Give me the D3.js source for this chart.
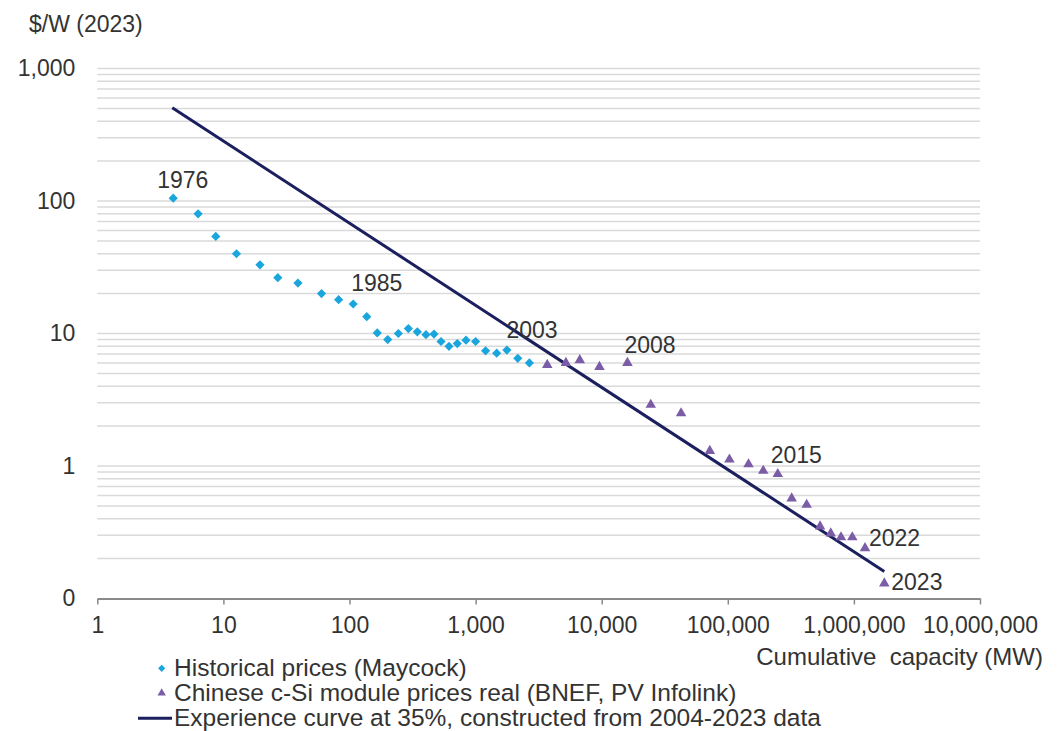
<!DOCTYPE html>
<html>
<head>
<meta charset="utf-8">
<script src="https://cdn.jsdelivr.net/npm/d3@7"></script>
<style>
  html, body { margin: 0; padding: 0; background: #fff; }
  svg { display: block; font-family: "Liberation Sans", Arial, sans-serif; }
</style>
</head>
<body>
<div id="chart"></div>
<script>
// Historical prices (Maycock), 1976-2003: cumulative MW and $/W (2023)
const maycockYears = [1976, 1977, 1978, 1979, 1980, 1981, 1982, 1983, 1984, 1985,
    1986, 1987, 1988, 1989, 1990, 1991, 1992, 1993, 1994, 1995,
    1996, 1997, 1998, 1999, 2000, 2001, 2002, 2003];
const maycockCapacity = [4, 6.3, 8.7, 12.7, 19.5, 27, 39, 60, 82, 107,
    137, 166, 201, 244, 293, 345, 404, 468, 532, 615,
    716, 839, 1000, 1200, 1470, 1770, 2160, 2670];
const maycockPrice = [105, 80, 54, 40, 33, 26.4, 24, 20, 18, 16.7,
    13.4, 10.1, 9.0, 10, 10.9, 10.3, 9.8, 9.9, 8.7, 8.0,
    8.4, 8.9, 8.7, 7.4, 7.1, 7.5, 6.5, 6.0];

// Chinese c-Si module prices real (BNEF, PV Infolink), 2004-2023
const bnefYears = [2004, 2005, 2006, 2007, 2008, 2009, 2010, 2011, 2012, 2013,
    2014, 2015, 2016, 2017, 2018, 2019, 2020, 2021, 2022, 2023];
const bnefCapacity = [3700, 5200, 6700, 9600, 16000, 24500, 42600, 72000, 103000, 146000,
    191000, 249000, 321000, 422000, 539000, 655000, 790000, 971000, 1225000, 1742000];
const bnefPrice = [5.8, 6.0, 6.3, 5.6, 6.0, 2.9, 2.5, 1.3, 1.12, 1.03,
    0.92, 0.87, 0.57, 0.51, 0.35, 0.31, 0.29, 0.29, 0.24, 0.13];

// Experience curve at 35% (end points)
const curveCapacity = [3.93, 1742000];
const curvePrice = [506, 0.16];

// Axis ticks
const xTicks = [1, 10, 100, 1000, 10000, 100000, 1000000, 10000000];
const yTicks = [0.1, 1, 10, 100, 1000];

// Years that carry a label
const labelYears = [1976, 1985, 2003, 2008, 2015, 2022, 2023];

const legendLabels = [
    'Historical prices (Maycock)',
    'Chinese c-Si module prices real (BNEF, PV Infolink)',
    'Experience curve at 35%, constructed from 2004-2023 data'
];

// ---- layout ----
const W = 1057, H = 731;
const plot = { left: 97.3, right: 980, top: 68.5, bottom: 598.5 };
const colors = { maycock: '#1aa6dc', bnef: '#7b5ca6', curve: '#1b1f5e', grid: '#dadada', axis: '#8a8a8a', text: '#333333' };
const FS = 23;

// label offsets from their point (px)
const labelOffset = {
    1976: [-16, -10], 1985: [-2, -13], 2003: [-23, -25], 2008: [-3, -10],
    2015: [-7, -11], 2022: [4, -2], 2023: [7, 7]
};

const svg = d3.select('#chart').append('svg')
    .attr('width', W)
    .attr('height', H);

svg.append('rect').attr('width', W).attr('height', H).attr('fill', '#fff');

const x = d3.scaleLog().domain([1, 1e7]).range([plot.left, plot.right]);
const y = d3.scaleLog().domain([0.1, 1000]).range([plot.bottom, plot.top]);

// Gridlines (all 1-9 multiples)
svg.append('g')
    .selectAll('line')
    .data(y.ticks().filter(d => d > 0.1 * 1.001))
    .enter()
    .append('line')
    .attr('x1', plot.left)
    .attr('x2', plot.right)
    .attr('y1', d => y(d))
    .attr('y2', d => y(d))
    .attr('stroke', colors.grid)
    .attr('stroke-width', 1.5);

// X axis
const xAxis = svg.append('g')
    .attr('transform', `translate(0,${plot.bottom})`)
    .call(d3.axisBottom(x)
        .tickValues(xTicks)
        .tickFormat(d3.format(','))
        .tickSize(6)
        .tickSizeOuter(0)
        .tickPadding(12));
xAxis.select('.domain').attr('stroke', colors.axis).attr('stroke-width', 2);
xAxis.selectAll('.tick line').attr('stroke', colors.axis).attr('stroke-width', 1.5);
xAxis.selectAll('.tick text')
    .attr('fill', colors.text)
    .style('font-size', FS + 'px')
    .style('font-family', '"Liberation Sans", Arial, sans-serif');

// Y axis (labels only, 0.1 shows as "0")
const yAxis = svg.append('g')
    .attr('transform', `translate(${plot.left},0)`)
    .call(d3.axisLeft(y)
        .tickValues(yTicks)
        .tickFormat(d3.format(',.0f'))
        .tickSize(0)
        .tickPadding(22));
yAxis.select('.domain').remove();
yAxis.selectAll('.tick text')
    .attr('fill', colors.text)
    .style('font-size', FS + 'px')
    .style('font-family', '"Liberation Sans", Arial, sans-serif');

// Axis titles
svg.append('text')
    .attr('x', 29)
    .attr('y', 32)
    .attr('fill', colors.text)
    .style('font-size', FS + 'px')
    .text('$/W (2023)');

svg.append('text')
    .attr('x', 1043)
    .attr('y', 665)
    .attr('text-anchor', 'end')
    .attr('fill', colors.text)
    .style('font-size', '24px')
    .style('white-space', 'pre')
    .text('Cumulative  capacity (MW)');

// Experience curve
const curveData = curveCapacity.map((c, i) => ({ c, p: curvePrice[i] }));
svg.append('path')
    .datum(curveData)
    .attr('fill', 'none')
    .attr('stroke', colors.curve)
    .attr('stroke-width', 3)
    .attr('d', d3.line().x(d => x(d.c)).y(d => y(d.p)));

// Maycock diamonds
const maycock = maycockYears.map((yr, i) => ({ yr, c: maycockCapacity[i], p: maycockPrice[i] }));
const diamond = r => `M0,${-r}L${r},0L0,${r}L${-r},0Z`;
svg.append('g')
    .selectAll('path')
    .data(maycock)
    .enter()
    .append('path')
    .attr('d', diamond(4.6))
    .attr('transform', d => `translate(${x(d.c)},${y(d.p)})`)
    .attr('fill', colors.maycock);

// BNEF triangles
const bnef = bnefYears.map((yr, i) => ({ yr, c: bnefCapacity[i], p: bnefPrice[i] }));
svg.append('g')
    .selectAll('path')
    .data(bnef)
    .enter()
    .append('path')
    .attr('d', d3.symbol().type(d3.symbolTriangle).size(48))
    .attr('transform', d => `translate(${x(d.c)},${y(d.p)})`)
    .attr('fill', colors.bnef);

// Year labels
const allPoints = maycock.concat(bnef);
svg.append('g')
    .selectAll('text')
    .data(allPoints.filter(d => labelYears.includes(d.yr)))
    .enter()
    .append('text')
    .attr('x', d => x(d.c) + labelOffset[d.yr][0])
    .attr('y', d => y(d.p) + labelOffset[d.yr][1])
    .attr('fill', colors.text)
    .style('font-size', FS + 'px')
    .text(d => d.yr);

// Legend
const legend = svg.append('g');
const legendX = 161.7, legendTextX = 174;
const legendRows = [668.3, 693, 718.3];

legend.append('path')
    .attr('d', diamond(3.6))
    .attr('transform', `translate(${legendX},${legendRows[0]})`)
    .attr('fill', colors.maycock);
legend.append('path')
    .attr('d', d3.symbol().type(d3.symbolTriangle).size(30))
    .attr('transform', `translate(${legendX},${legendRows[1]})`)
    .attr('fill', colors.bnef);
legend.append('line')
    .attr('x1', 138).attr('x2', 172)
    .attr('y1', legendRows[2]).attr('y2', legendRows[2])
    .attr('stroke', colors.curve)
    .attr('stroke-width', 3);

legend.selectAll('text')
    .data(legendLabels)
    .enter()
    .append('text')
    .attr('x', legendTextX)
    .attr('y', (d, i) => legendRows[i] + 7.5)
    .attr('fill', colors.text)
    .style('font-size', '24.5px')
    .text(d => d);
</script>
</body>
</html>
